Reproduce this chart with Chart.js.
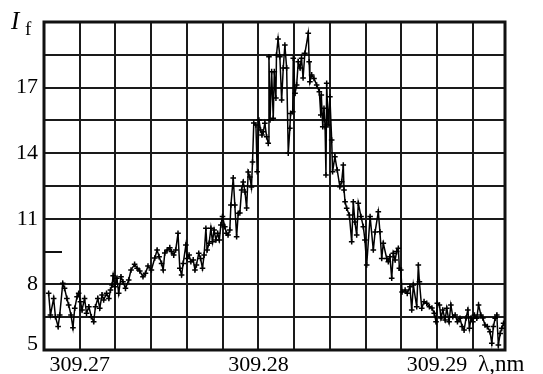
<!DOCTYPE html>
<html><head><meta charset="utf-8">
<script src="https://cdn.jsdelivr.net/npm/chart.js@4.4.0/dist/chart.umd.min.js"></script>
<style>html,body{margin:0;padding:0;background:#fff;}canvas{display:block;}</style>
</head><body>
<canvas id="c" width="543" height="374"></canvas>
<script>
const wavelength = [
309.26826,309.26836,309.26854,309.26864,309.26879,309.26888,309.26905,309.26915,309.26928,309.26938,
309.26951,309.26962,309.26972,309.26985,309.26994,309.27004,309.27013,309.27027,309.27038,309.27051,
309.27065,309.27078,309.27088,309.27101,309.27112,309.27125,309.27134,309.27150,309.27163,309.27172,
309.27181,309.27187,309.27196,309.27208,309.27218,309.27231,309.27242,309.27256,309.27274,309.27287,
309.27307,309.27321,309.27336,309.27354,309.27368,309.27382,309.27401,309.27420,309.27433,309.27444,
309.27458,309.27467,309.27476,309.27489,309.27504,309.27513,309.27526,309.27537,309.27550,309.27560,
309.27570,309.27579,309.27594,309.27601,309.27612,309.27622,309.27635,309.27645,309.27653,309.27666,
309.27676,309.27687,309.27696,309.27706,309.27713,309.27724,309.27734,309.27743,309.27752,309.27762,
309.27772,309.27781,309.27790,309.27799,309.27812,309.27821,309.27830,309.27840,309.27846,309.27859,
309.27868,309.27878,309.27887,309.27896,309.27906,309.27915,309.27925,309.27934,309.27943,309.27952,
309.27961,309.27967,309.27974,309.27986,309.27993,309.28003,309.28012,309.28020,309.28027,309.28036,
309.28046,309.28055,309.28059,309.28065,309.28074,309.28083,309.28089,309.28098,309.28101,309.28110,
309.28120,309.28130,309.28139,309.28148,309.28158,309.28167,309.28176,309.28180,309.28192,309.28195,
309.28205,309.28214,309.28223,309.28233,309.28241,309.28250,309.28260,309.28279,309.28284,309.28288,
309.28298,309.28311,309.28326,309.28341,309.28349,309.28352,309.28360,309.28367,309.28373,309.28378,
309.28382,309.28390,309.28400,309.28410,309.28415,309.28428,309.28441,309.28456,309.28466,309.28475,
309.28479,309.28485,309.28494,309.28509,309.28522,309.28531,309.28540,309.28550,309.28559,309.28574,
309.28587,309.28596,309.28606,309.28625,309.28643,309.28653,309.28671,309.28680,309.28690,309.28699,
309.28718,309.28727,309.28736,309.28746,309.28755,309.28765,309.28774,309.28783,309.28789,309.28797,
309.28804,309.28821,309.28833,309.28848,309.28858,309.28867,309.28886,309.28895,309.28901,309.28914,
309.28927,309.28942,309.28957,309.28971,309.28984,309.28994,309.29001,309.29013,309.29022,309.29032,
309.29045,309.29054,309.29067,309.29077,309.29088,309.29101,309.29114,309.29128,309.29140,309.29151,
309.29162,309.29172,309.29181,309.29190,309.29200,309.29209,309.29222,309.29232,309.29245,309.29256,
309.29268,309.29281,309.29296,309.29306,309.29315,309.29325,309.29334,309.29343,309.29353,309.29362,
309.29372
];
const intensity = [
7.59,6.60,7.36,6.52,6.07,6.60,8.05,7.82,7.36,7.06,
6.60,6.02,6.91,7.44,7.59,7.21,6.83,7.36,6.68,6.98,
6.52,6.29,6.98,7.36,6.91,7.52,7.29,7.59,7.36,7.74,
7.97,8.40,7.89,8.28,7.59,8.35,8.12,7.82,8.20,8.66,
8.92,8.74,8.61,8.35,8.51,8.84,8.66,9.21,9.57,9.27,
8.96,8.66,9.44,9.57,9.68,9.50,9.34,9.57,10.34,8.74,
8.43,8.96,9.80,9.19,9.34,9.04,9.12,8.66,8.89,9.42,
9.19,8.74,9.34,10.57,9.57,9.88,10.57,9.95,10.49,10.03,
10.34,10.03,10.72,11.10,10.64,10.34,10.26,10.49,11.63,12.87,
11.63,10.18,11.25,11.27,12.32,12.68,12.23,11.49,13.14,12.91,
12.45,13.60,15.38,15.29,13.15,15.52,15.06,14.83,14.98,15.37,
14.75,14.45,18.41,15.52,17.73,15.60,17.73,16.52,18.49,19.22,
18.41,16.43,17.90,18.95,17.90,14.00,15.14,15.82,15.90,18.34,
16.74,17.12,18.18,17.90,18.34,17.44,18.57,19.48,18.18,17.27,
17.58,17.42,17.12,16.81,15.75,16.66,15.21,16.05,15.21,13.00,
17.20,15.29,16.58,14.60,13.15,13.84,13.23,12.47,12.70,13.46,
12.32,11.78,11.48,11.17,9.95,11.78,10.85,10.26,11.71,11.10,
10.64,10.03,8.89,11.10,9.57,10.40,11.32,10.41,9.19,9.88,
9.19,9.04,9.27,8.28,9.42,9.12,9.50,9.65,8.74,8.66,
7.65,7.74,7.59,7.89,6.83,7.97,6.98,8.89,8.12,6.91,
7.21,7.14,6.98,6.92,6.68,6.29,7.14,7.06,6.46,6.83,
6.37,6.91,6.29,7.06,6.52,6.60,6.29,6.45,6.07,5.91,
6.46,6.83,5.99,6.46,6.29,6.60,6.45,7.06,6.60,6.46,
6.14,6.07,5.84,5.31,6.07,6.45,6.60,5.23,5.76,5.99,
6.22
];
const xGridValues = [309.268,309.270,309.272,309.274,309.276,309.278,309.280,309.282,309.284,309.286,309.288,309.290,309.292];
const xLabelValues = [309.27, 309.28, 309.29];
const xRange = [309.268, 309.2938];
const yGridValues = [5, 6.5, 8, 11, 12.5, 14, 15.5, 17, 18.5, 20];
const yShortTickValues = [9.5];
const yLabelValues = [5, 8, 11, 14, 17];
const yRange = [5, 20];
const yTitleMain = 'I';
const yTitleSub = 'f';
const xTitle = 'λ,nm';

const FONT = '"Liberation Serif", "Times New Roman", serif';
const near = (a, b) => Math.abs(a - b) < 1e-7;

const decor = {
  id: 'decor',
  beforeDatasetsDraw(chart) {
    const {ctx, chartArea: a, scales} = chart;
    ctx.save();
    ctx.strokeStyle = '#111';
    ctx.lineWidth = 2;
    yShortTickValues.forEach(v => {
      const y = Math.round(scales.y.getPixelForValue(v));
      ctx.beginPath();
      ctx.moveTo(a.left, y);
      ctx.lineTo(a.left + 18, y);
      ctx.stroke();
    });
    ctx.lineWidth = 3;
    ctx.strokeRect(a.left, a.top, a.right - a.left, a.bottom - a.top);
    ctx.restore();
  },
  afterDraw(chart) {
    const {ctx, chartArea: a, scales} = chart;
    ctx.save();
    ctx.fillStyle = '#000';
    ctx.textBaseline = 'alphabetic';
    ctx.textAlign = 'left';
    ctx.font = 'italic 25px ' + FONT;
    ctx.fillText(yTitleMain, 11, 29);
    ctx.font = '19px ' + FONT;
    ctx.fillText(yTitleSub, 25, 35);
    ctx.font = '23px ' + FONT;
    ctx.fillText(xTitle, 478, 371);
    ctx.font = '22px ' + FONT;
    ctx.textAlign = 'right';
    ctx.fillText(String(yLabelValues[0]), a.left - 6, scales.y.getPixelForValue(yLabelValues[0]));
    ctx.restore();
  }
};

new Chart(document.getElementById('c'), {
  type: 'line',
  data: {
    datasets: [{
      data: wavelength.map((w, i) => ({x: w, y: intensity[i]})),
      borderColor: '#000',
      borderWidth: 1.5,
      pointStyle: 'cross',
      pointRadius: 2.8,
      pointBorderWidth: 1.5,
      pointBorderColor: '#000',
      tension: 0,
      fill: false
    }]
  },
  options: {
    responsive: false,
    animation: false,
    devicePixelRatio: 1,
    layout: {padding: {left: 0, right: 38, top: 22, bottom: 0}},
    plugins: {legend: {display: false}, tooltip: {enabled: false}},
    scales: {
      x: {
        type: 'linear',
        min: xRange[0], max: xRange[1],
        afterBuildTicks: s => { s.ticks = xGridValues.map(v => ({value: v})); },
        afterFit: s => { s.height = 24; },
        grid: {color: '#1a1a1a', lineWidth: 2, drawTicks: false},
        border: {display: false},
        ticks: {
          autoSkip: false, maxRotation: 0, padding: 2, color: '#000',
          font: {family: FONT, size: 22},
          callback: v => xLabelValues.some(l => near(l, v)) ? v.toFixed(2) : ''
        }
      },
      y: {
        type: 'linear',
        min: yRange[0], max: yRange[1],
        afterBuildTicks: s => { s.ticks = yGridValues.map(v => ({value: v})); },
        afterFit: s => { s.width = 44; },
        grid: {color: '#1a1a1a', lineWidth: 2, drawTicks: false},
        border: {display: false},
        ticks: {
          autoSkip: false, padding: 6, color: '#000',
          font: {family: FONT, size: 22},
          callback: v => (yLabelValues.some(l => near(l, v)) && !near(v, yLabelValues[0])) ? String(v) : ''
        }
      }
    }
  },
  plugins: [decor]
});
</script>
</body></html>
